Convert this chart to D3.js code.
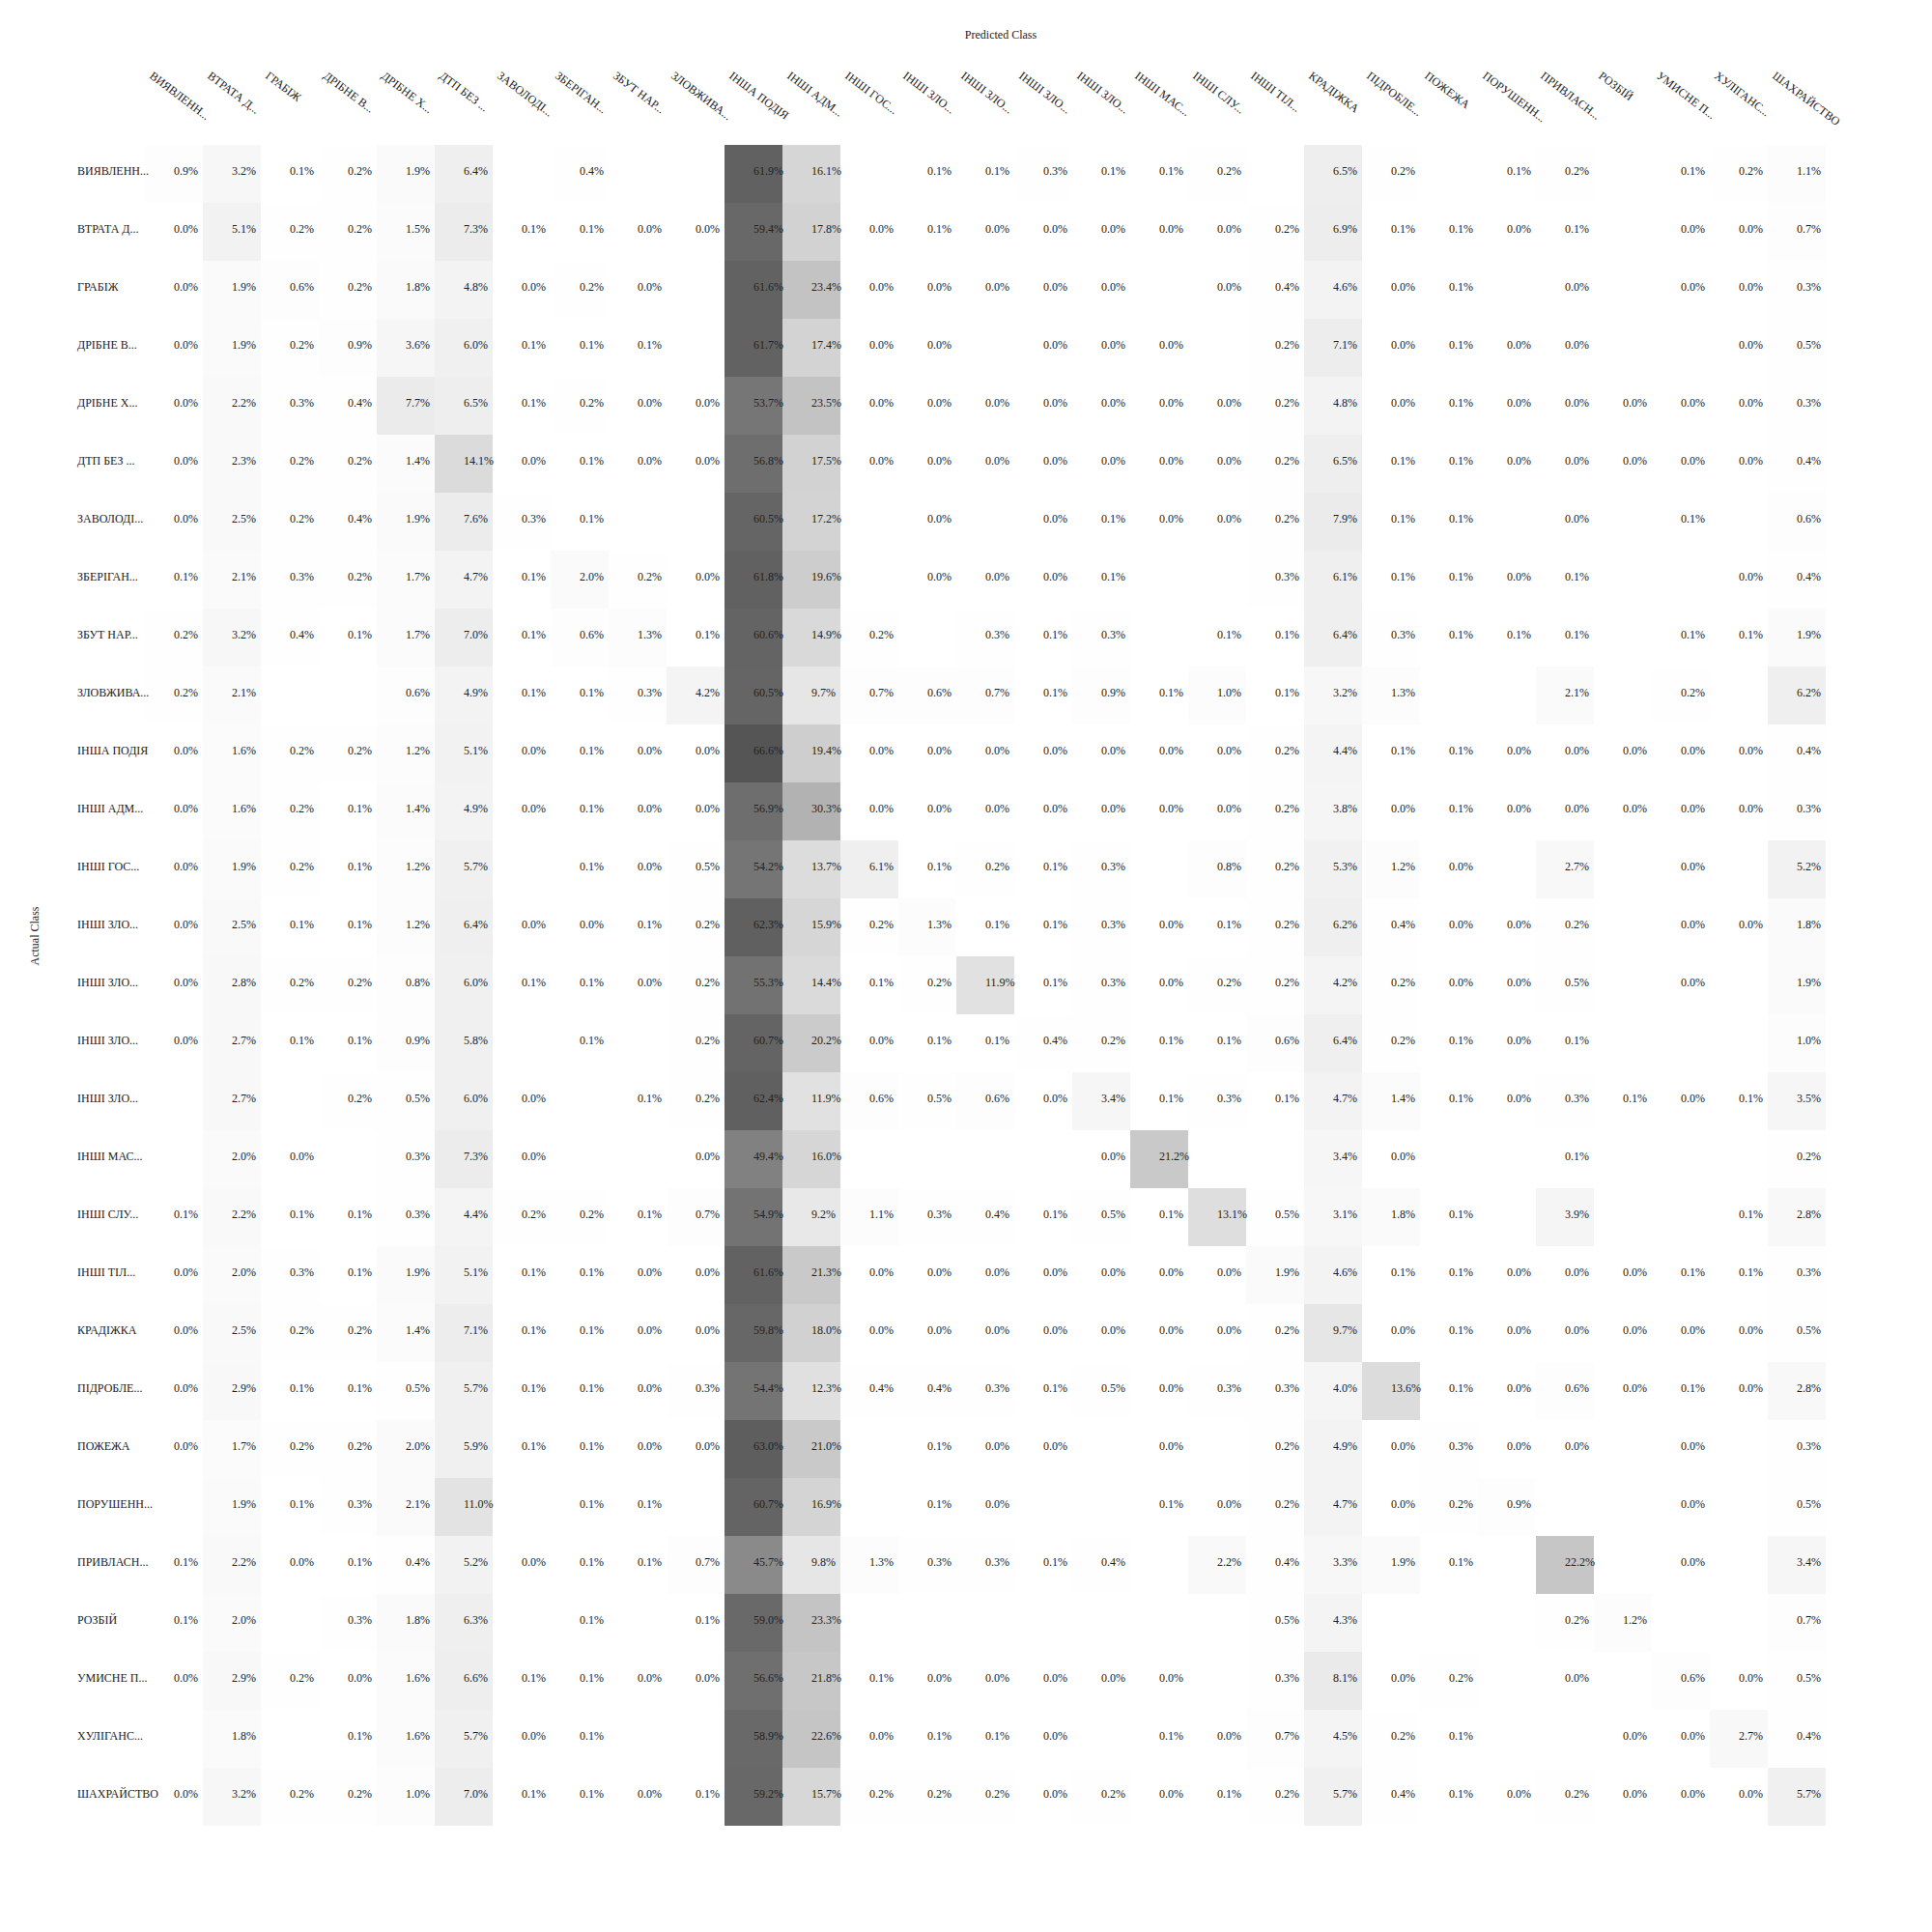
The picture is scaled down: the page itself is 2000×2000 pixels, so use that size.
<!DOCTYPE html>
<html>
<head>
<meta charset="utf-8">
<script src="https://cdn.jsdelivr.net/npm/d3@7"></script>
<style>
  html, body { margin: 0; padding: 0; background: #fff; }
  svg text { font-family: "Liberation Serif", "Times New Roman", serif; }
</style>
</head>
<body>
<div id="chart"></div>
<script>
// Category labels (as displayed, truncated)
const classes = [
  "ВИЯВЛЕНН...", "ВТРАТА Д...", "ГРАБІЖ", "ДРІБНЕ В...", "ДРІБНЕ Х...", "ДТП БЕЗ ...",
  "ЗАВОЛОДІ...", "ЗБЕРІГАН...", "ЗБУТ НАР...", "ЗЛОВЖИВА...", "ІНША ПОДІЯ", "ІНШІ АДМ...",
  "ІНШІ ГОС...", "ІНШІ ЗЛО...", "ІНШІ ЗЛО...", "ІНШІ ЗЛО...", "ІНШІ ЗЛО...", "ІНШІ МАС...",
  "ІНШІ СЛУ...", "ІНШІ ТІЛ...", "КРАДІЖКА", "ПІДРОБЛЕ...", "ПОЖЕЖА", "ПОРУШЕНН...",
  "ПРИВЛАСН...", "РОЗБІЙ", "УМИСНЕ П...", "ХУЛІГАНС...", "ШАХРАЙСТВО"
];

const xTitle = "Predicted Class";
const yTitle = "Actual Class";

// Row-normalised percentages (null = no predictions)
const _ = null;
const row00 = [0.9,3.2,0.1,0.2,1.9,6.4,_,0.4,_,_, 61.9,16.1,_,0.1,0.1,0.3,0.1,0.1,0.2,_, 6.5,0.2,_,0.1,0.2,_,0.1,0.2,1.1];
const row01 = [0.0,5.1,0.2,0.2,1.5,7.3,0.1,0.1,0.0,0.0, 59.4,17.8,0.0,0.1,0.0,0.0,0.0,0.0,0.0,0.2, 6.9,0.1,0.1,0.0,0.1,_,0.0,0.0,0.7];
const row02 = [0.0,1.9,0.6,0.2,1.8,4.8,0.0,0.2,0.0,_, 61.6,23.4,0.0,0.0,0.0,0.0,0.0,_,0.0,0.4, 4.6,0.0,0.1,_,0.0,_,0.0,0.0,0.3];
const row03 = [0.0,1.9,0.2,0.9,3.6,6.0,0.1,0.1,0.1,_, 61.7,17.4,0.0,0.0,_,0.0,0.0,0.0,_,0.2, 7.1,0.0,0.1,0.0,0.0,_,_,0.0,0.5];
const row04 = [0.0,2.2,0.3,0.4,7.7,6.5,0.1,0.2,0.0,0.0, 53.7,23.5,0.0,0.0,0.0,0.0,0.0,0.0,0.0,0.2, 4.8,0.0,0.1,0.0,0.0,0.0,0.0,0.0,0.3];
const row05 = [0.0,2.3,0.2,0.2,1.4,14.1,0.0,0.1,0.0,0.0, 56.8,17.5,0.0,0.0,0.0,0.0,0.0,0.0,0.0,0.2, 6.5,0.1,0.1,0.0,0.0,0.0,0.0,0.0,0.4];
const row06 = [0.0,2.5,0.2,0.4,1.9,7.6,0.3,0.1,_,_, 60.5,17.2,_,0.0,_,0.0,0.1,0.0,0.0,0.2, 7.9,0.1,0.1,_,0.0,_,0.1,_,0.6];
const row07 = [0.1,2.1,0.3,0.2,1.7,4.7,0.1,2.0,0.2,0.0, 61.8,19.6,_,0.0,0.0,0.0,0.1,_,_,0.3, 6.1,0.1,0.1,0.0,0.1,_,_,0.0,0.4];
const row08 = [0.2,3.2,0.4,0.1,1.7,7.0,0.1,0.6,1.3,0.1, 60.6,14.9,0.2,_,0.3,0.1,0.3,_,0.1,0.1, 6.4,0.3,0.1,0.1,0.1,_,0.1,0.1,1.9];
const row09 = [0.2,2.1,_,_,0.6,4.9,0.1,0.1,0.3,4.2, 60.5,9.7,0.7,0.6,0.7,0.1,0.9,0.1,1.0,0.1, 3.2,1.3,_,_,2.1,_,0.2,_,6.2];
const row10 = [0.0,1.6,0.2,0.2,1.2,5.1,0.0,0.1,0.0,0.0, 66.6,19.4,0.0,0.0,0.0,0.0,0.0,0.0,0.0,0.2, 4.4,0.1,0.1,0.0,0.0,0.0,0.0,0.0,0.4];
const row11 = [0.0,1.6,0.2,0.1,1.4,4.9,0.0,0.1,0.0,0.0, 56.9,30.3,0.0,0.0,0.0,0.0,0.0,0.0,0.0,0.2, 3.8,0.0,0.1,0.0,0.0,0.0,0.0,0.0,0.3];
const row12 = [0.0,1.9,0.2,0.1,1.2,5.7,_,0.1,0.0,0.5, 54.2,13.7,6.1,0.1,0.2,0.1,0.3,_,0.8,0.2, 5.3,1.2,0.0,_,2.7,_,0.0,_,5.2];
const row13 = [0.0,2.5,0.1,0.1,1.2,6.4,0.0,0.0,0.1,0.2, 62.3,15.9,0.2,1.3,0.1,0.1,0.3,0.0,0.1,0.2, 6.2,0.4,0.0,0.0,0.2,_,0.0,0.0,1.8];
const row14 = [0.0,2.8,0.2,0.2,0.8,6.0,0.1,0.1,0.0,0.2, 55.3,14.4,0.1,0.2,11.9,0.1,0.3,0.0,0.2,0.2, 4.2,0.2,0.0,0.0,0.5,_,0.0,_,1.9];
const row15 = [0.0,2.7,0.1,0.1,0.9,5.8,_,0.1,_,0.2, 60.7,20.2,0.0,0.1,0.1,0.4,0.2,0.1,0.1,0.6, 6.4,0.2,0.1,0.0,0.1,_,_,_,1.0];
const row16 = [_,2.7,_,0.2,0.5,6.0,0.0,_,0.1,0.2, 62.4,11.9,0.6,0.5,0.6,0.0,3.4,0.1,0.3,0.1, 4.7,1.4,0.1,0.0,0.3,0.1,0.0,0.1,3.5];
const row17 = [_,2.0,0.0,_,0.3,7.3,0.0,_,_,0.0, 49.4,16.0,_,_,_,_,0.0,21.2,_,_, 3.4,0.0,_,_,0.1,_,_,_,0.2];
const row18 = [0.1,2.2,0.1,0.1,0.3,4.4,0.2,0.2,0.1,0.7, 54.9,9.2,1.1,0.3,0.4,0.1,0.5,0.1,13.1,0.5, 3.1,1.8,0.1,_,3.9,_,_,0.1,2.8];
const row19 = [0.0,2.0,0.3,0.1,1.9,5.1,0.1,0.1,0.0,0.0, 61.6,21.3,0.0,0.0,0.0,0.0,0.0,0.0,0.0,1.9, 4.6,0.1,0.1,0.0,0.0,0.0,0.1,0.1,0.3];
const row20 = [0.0,2.5,0.2,0.2,1.4,7.1,0.1,0.1,0.0,0.0, 59.8,18.0,0.0,0.0,0.0,0.0,0.0,0.0,0.0,0.2, 9.7,0.0,0.1,0.0,0.0,0.0,0.0,0.0,0.5];
const row21 = [0.0,2.9,0.1,0.1,0.5,5.7,0.1,0.1,0.0,0.3, 54.4,12.3,0.4,0.4,0.3,0.1,0.5,0.0,0.3,0.3, 4.0,13.6,0.1,0.0,0.6,0.0,0.1,0.0,2.8];
const row22 = [0.0,1.7,0.2,0.2,2.0,5.9,0.1,0.1,0.0,0.0, 63.0,21.0,_,0.1,0.0,0.0,_,0.0,_,0.2, 4.9,0.0,0.3,0.0,0.0,_,0.0,_,0.3];
const row23 = [_,1.9,0.1,0.3,2.1,11.0,_,0.1,0.1,_, 60.7,16.9,_,0.1,0.0,_,_,0.1,0.0,0.2, 4.7,0.0,0.2,0.9,_,_,0.0,_,0.5];
const row24 = [0.1,2.2,0.0,0.1,0.4,5.2,0.0,0.1,0.1,0.7, 45.7,9.8,1.3,0.3,0.3,0.1,0.4,_,2.2,0.4, 3.3,1.9,0.1,_,22.2,_,0.0,_,3.4];
const row25 = [0.1,2.0,_,0.3,1.8,6.3,_,0.1,_,0.1, 59.0,23.3,_,_,_,_,_,_,_,0.5, 4.3,_,_,_,0.2,1.2,_,_,0.7];
const row26 = [0.0,2.9,0.2,0.0,1.6,6.6,0.1,0.1,0.0,0.0, 56.6,21.8,0.1,0.0,0.0,0.0,0.0,0.0,_,0.3, 8.1,0.0,0.2,_,0.0,_,0.6,0.0,0.5];
const row27 = [_,1.8,_,0.1,1.6,5.7,0.0,0.1,_,_, 58.9,22.6,0.0,0.1,0.1,0.0,_,0.1,0.0,0.7, 4.5,0.2,0.1,_,_,0.0,0.0,2.7,0.4];
const row28 = [0.0,3.2,0.2,0.2,1.0,7.0,0.1,0.1,0.0,0.1, 59.2,15.7,0.2,0.2,0.2,0.0,0.2,0.0,0.1,0.2, 5.7,0.4,0.1,0.0,0.2,0.0,0.0,0.0,5.7];

const matrix = [row00,row01,row02,row03,row04,row05,row06,row07,row08,row09,
                row10,row11,row12,row13,row14,row15,row16,row17,row18,row19,
                row20,row21,row22,row23,row24,row25,row26,row27,row28];

// ---- layout ----
const W = 2000, H = 2000;
const gx0 = 150, gy0 = 150, cell = 60;
const n = classes.length;

const svg = d3.select("#chart").append("svg")
  .attr("width", W).attr("height", H)
  .attr("viewBox", `0 0 ${W} ${H}`);

const x = d3.scaleBand().domain(d3.range(n)).range([gx0, gx0 + n * cell]).padding(0);
const y = d3.scaleBand().domain(d3.range(n)).range([gy0, gy0 + n * cell]).padding(0);
const color = d3.scaleLinear().domain([0, 100]).range(["#ffffff", "#000000"]);

const cells = [];
matrix.forEach((row, r) => row.forEach((v, c) => {
  if (v !== null) cells.push({ r, c, v });
}));

const g = svg.append("g");

g.selectAll("rect.cell").data(cells).join("rect")
  .attr("class", "cell")
  .attr("x", d => x(d.c))
  .attr("y", d => y(d.r))
  .attr("width", x.bandwidth())
  .attr("height", y.bandwidth())
  .attr("fill", d => color(d.v));

g.selectAll("text.val").data(cells).join("text")
  .attr("class", "val")
  .attr("x", d => x(d.c) + x.bandwidth() / 2)
  .attr("y", d => y(d.r) + y.bandwidth() / 2 - 2)
  .attr("dominant-baseline", "middle")
  .attr("text-anchor", "start")
  .attr("font-size", 12)
  .attr("fill", "#222")
  .text(d => d.v.toFixed(1) + "%");

// Row labels
svg.append("g").selectAll("text").data(classes).join("text")
  .attr("x", 80)
  .attr("y", (d, i) => y(i) + y.bandwidth() / 2 - 2)
  .attr("dominant-baseline", "middle")
  .attr("text-anchor", "start")
  .attr("font-size", 12)
  .attr("fill", "#222")
  .text(d => d);

// Column labels (rotated)
svg.append("g").selectAll("text").data(classes).join("text")
  .attr("transform", (d, i) => `translate(${x(i) + 4},80) rotate(37)`)
  .attr("text-anchor", "start")
  .attr("font-size", 12)
  .attr("fill", "#222")
  .text(d => d);

// Axis titles
svg.append("text")
  .attr("x", 1036).attr("y", 40)
  .attr("text-anchor", "middle")
  .attr("font-size", 12)
  .attr("fill", "#222")
  .text(xTitle);

svg.append("text")
  .attr("transform", "translate(40,969) rotate(-90)")
  .attr("text-anchor", "middle")
  .attr("font-size", 12)
  .attr("fill", "#222")
  .text(yTitle);
</script>
</body>
</html>
